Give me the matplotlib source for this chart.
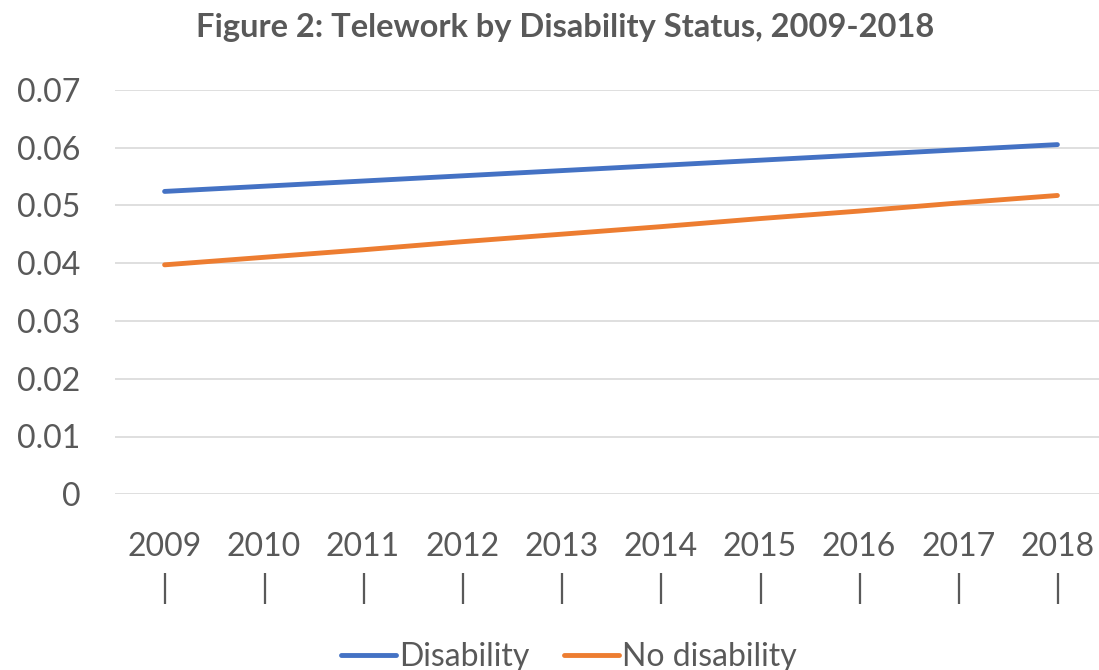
import matplotlib
matplotlib.use('Agg')
import matplotlib.pyplot as plt

# Data
years = ['2009', '2010', '2011', '2012', '2013', '2014', '2015', '2016', '2017', '2018']
disability = [0.0524, 0.0533, 0.0542, 0.0551, 0.0560, 0.0569, 0.0578, 0.0587, 0.0596, 0.0605]
no_disability = [0.0397, 0.0410, 0.0423, 0.0437, 0.0450, 0.0463, 0.0477, 0.0490, 0.0504, 0.0517]

plt.rcParams['font.family'] = ['Lato', 'DejaVu Sans']
grey = '#595959'

W, H = 1099, 670
fig = plt.figure(figsize=(W / 100, H / 100), dpi=100)
ax = fig.add_axes([115 / W, 1 - 494.3 / H, (1107 - 115) / W, (494.3 - 89.7) / H])

x = list(range(len(years)))
ax.plot(x, disability, color='#4472C4', lw=3.5, solid_capstyle='round', label='Disability')
ax.plot(x, no_disability, color='#ED7D31', lw=3.5, solid_capstyle='round', label='No disability')

ax.set_xlim(-0.5, len(years) - 0.5)
ax.set_ylim(0, 0.07)
ax.set_yticks([0, 0.01, 0.02, 0.03, 0.04, 0.05, 0.06, 0.07])
ax.set_yticklabels(['0', '0.01', '0.02', '0.03', '0.04', '0.05', '0.06', '0.07'])
ax.set_xticks(x)
ax.set_xticklabels([y + '\n|' for y in years], linespacing=1.45)
ax.tick_params(axis='both', length=0, labelsize=23, colors=grey)
ax.tick_params(axis='x', pad=27)
ax.tick_params(axis='y', pad=25)
for s in ax.spines.values():
    s.set_visible(False)
ax.grid(axis='y', color='#D9D9D9', lw=1.2)
ax.set_axisbelow(True)

fig.text(565 / W, 1 - 27 / H, 'Figure 2: Telework by Disability Status, 2009-2018',
         ha='center', va='center', fontsize=23.5, fontweight='bold', color=grey)

fig.legend(loc='center', bbox_to_anchor=(569 / W, 1 - 657 / H), ncol=2, frameon=False,
           fontsize=23, labelcolor=grey, handlelength=1.7, handletextpad=0.1,
           columnspacing=1.1)

fig.savefig('out.png', dpi=100)
